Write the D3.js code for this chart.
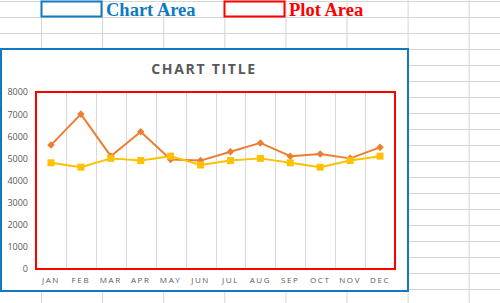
<!DOCTYPE html>
<html>
<head>
<meta charset="utf-8">
<script src="https://cdn.jsdelivr.net/npm/d3@7"></script>
<style>
  html, body { margin: 0; padding: 0; background: #fff; }
  svg { display: block; font-family: "Open Sans", "Liberation Sans", sans-serif; }
</style>
</head>
<body>
<div id="chart"></div>
<script>
// chart values
const months = ["JAN", "FEB", "MAR", "APR", "MAY", "JUN", "JUL", "AUG", "SEP", "OCT", "NOV", "DEC"];
const seriesOrange = [5600, 7000, 5100, 6200, 4950, 4900, 5300, 5700, 5100, 5200, 5000, 5500];
const seriesYellow = [4800, 4600, 5000, 4900, 5100, 4700, 4900, 5000, 4800, 4600, 4900, 5100];
const yTicks = [0, 1000, 2000, 3000, 4000, 5000, 6000, 7000, 8000];

const W = 500, H = 303;
const svg = d3.select("#chart").append("svg")
    .attr("width", W)
    .attr("height", H);

// spreadsheet grid behind everything
const grid = svg.append("g").attr("stroke", "#d6d6d6").attr("stroke-width", 1);
for (let x = 41.5; x < W; x += 61.1) {
    grid.append("line").attr("x1", x).attr("x2", x).attr("y1", 0).attr("y2", H);
}
for (let y = 1.5; y < H; y += 16) {
    grid.append("line").attr("x1", 0).attr("x2", W).attr("y1", y).attr("y2", y);
}

// legend boxes in the top rows
svg.append("rect").attr("x", 41.5).attr("y", 1.5).attr("width", 60).attr("height", 15)
   .attr("fill", "#fff").attr("stroke", "#0f7ac2").attr("stroke-width", 2);
svg.append("text").attr("x", 106).attr("y", 16)
   .style("font-family", "'Liberation Serif', 'DejaVu Serif', serif")
   .style("font-weight", "bold").style("font-size", "18.5px")
   .attr("fill", "#0f7ac2").text("Chart Area");

svg.append("rect").attr("x", 224.5).attr("y", 1.5).attr("width", 60).attr("height", 15)
   .attr("fill", "#fff").attr("stroke", "#ff0000").attr("stroke-width", 2);
svg.append("text").attr("x", 289).attr("y", 16)
   .style("font-family", "'Liberation Serif', 'DejaVu Serif', serif")
   .style("font-weight", "bold").style("font-size", "18.5px")
   .attr("fill", "#ff0000").text("Plot Area");

// chart area
svg.append("rect").attr("x", 1).attr("y", 49).attr("width", 407).attr("height", 242)
   .attr("fill", "#fff").attr("stroke", "#0f7ac2").attr("stroke-width", 2);

svg.append("text")
   .attr("x", 204).attr("y", 74)
   .attr("text-anchor", "middle")
   .style("font-size", "14px").style("font-weight", "bold")
   .style("letter-spacing", "1.7px")
   .attr("fill", "#595959")
   .text("CHART TITLE");

const margin = {top: 92, right: 105, bottom: 34, left: 36};
const width = W - margin.left - margin.right,
      height = H - margin.top - margin.bottom;

const g = svg.append("g").attr("transform", `translate(${margin.left},${margin.top})`);

const x = d3.scaleBand().domain(months).range([0, width]);
const y = d3.scaleLinear().domain([0, 8000]).range([height, 0]);

// vertical gridlines at category boundaries
g.append("g").selectAll("line")
  .data(months.slice(1))
  .join("line")
  .attr("x1", d => Math.round(x(d)) + 0.5).attr("x2", d => Math.round(x(d)) + 0.5)
  .attr("y1", 0).attr("y2", height)
  .attr("stroke", "#d9d9d9").attr("stroke-width", 1);

// y axis labels
const yAxis = d3.axisLeft(y).tickValues(yTicks).tickFormat(d3.format("d")).tickSize(0).tickPadding(8);
g.append("g").call(yAxis)
  .call(a => a.select(".domain").remove())
  .selectAll("text")
  .style("font-size", "9px")
  .style("font-family", "'Open Sans', sans-serif")
  .attr("fill", "#595959");

// x axis labels
const xAxis = d3.axisBottom(x).tickSize(0).tickPadding(8);
g.append("g").attr("transform", `translate(0,${height})`).call(xAxis)
  .call(a => a.select(".domain").remove())
  .selectAll("text")
  .style("font-size", "8px")
  .style("letter-spacing", "1.6px")
  .style("font-family", "'Open Sans', sans-serif")
  .attr("fill", "#595959");

const cx = (d, i) => x(months[i]) + x.bandwidth() / 2;
const line = d3.line().x(cx).y(d => y(d));

g.append("path").datum(seriesOrange)
  .attr("d", line).attr("fill", "none")
  .attr("stroke", "#ed7d31").attr("stroke-width", 2).attr("stroke-linejoin", "round");
g.append("path").datum(seriesYellow)
  .attr("d", line).attr("fill", "none")
  .attr("stroke", "#ffc000").attr("stroke-width", 2).attr("stroke-linejoin", "round");

g.selectAll(".dia").data(seriesOrange).join("path")
  .attr("class", "dia")
  .attr("d", d3.symbol(d3.symbolDiamond2, 36))
  .attr("transform", (d, i) => `translate(${cx(d, i)},${y(d)})`)
  .attr("fill", "#ed7d31");

g.selectAll(".sq").data(seriesYellow).join("rect")
  .attr("class", "sq")
  .attr("x", (d, i) => cx(d, i) - 3.5).attr("y", d => y(d) - 3.5)
  .attr("width", 7).attr("height", 7)
  .attr("fill", "#ffc000");

// plot area border on top
svg.append("rect")
   .attr("x", margin.left).attr("y", margin.top)
   .attr("width", width).attr("height", height)
   .attr("fill", "none").attr("stroke", "#ff0000").attr("stroke-width", 2);
</script>
</body>
</html>
